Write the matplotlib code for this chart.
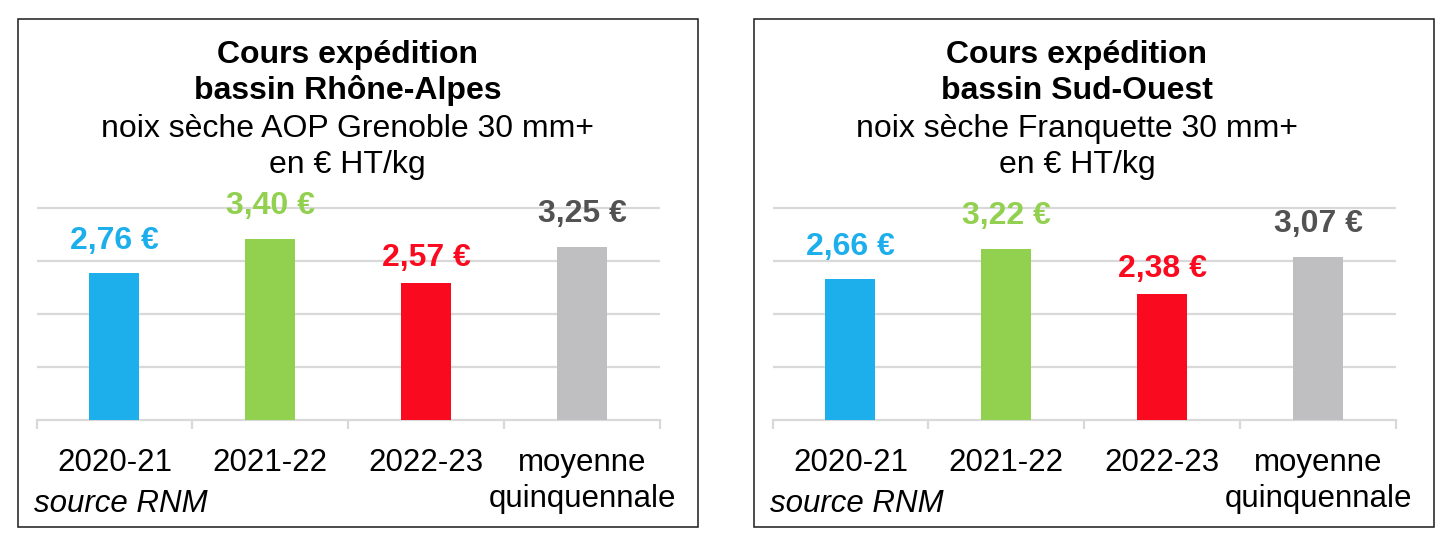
import numpy as np
import matplotlib
matplotlib.use("Agg")
import matplotlib.pyplot as plt
from matplotlib.patches import Rectangle

# ---------------- data ----------------
categories = ["2020-21", "2021-22", "2022-23", "moyenne\nquinquennale"]
values_rhone_alpes = [2.76, 3.40, 2.57, 3.25]
values_sud_ouest = [2.66, 3.22, 2.38, 3.07]
titles_rhone_alpes = ["Cours expédition", "bassin Rhône-Alpes",
                      "noix sèche AOP Grenoble 30 mm+", "en € HT/kg"]
titles_sud_ouest = ["Cours expédition", "bassin Sud-Ouest",
                    "noix sèche Franquette 30 mm+", "en € HT/kg"]
source_text = "source RNM"

# ---------------- style ----------------
bar_colors = ["#1DAFEC", "#92D050", "#FA0A1E", "#BFBEC0"]
label_colors = ["#1DAFEC", "#92D050", "#FA0A1E", "#525252"]
label_gap_px = [24, 25, 17, 25]
grid_color = "#D9D9D9"

plt.rcParams["font.family"] = ["Liberation Sans", "DejaVu Sans"]

W, H = 1454, 546
fig = plt.figure(figsize=(W / 100, H / 100), dpi=100)


def fx(px):
    return px / W


def fy(py):
    return 1 - py / H


def fmt(v):
    return f"{v:.2f}".replace(".", ",") + " €"


def draw_panel(offset, values, title_lines, title_cx):
    # panel frame
    fig.patches.append(Rectangle((fx(18 + offset), fy(527)), fx(679.5), (527 - 18.5) / H,
                                 transform=fig.transFigure, fill=False,
                                 edgecolor="#1a1a1a", linewidth=1.1))
    # titles
    baselines = [63, 99, 137, 173]
    for i, (line, by) in enumerate(zip(title_lines, baselines)):
        fig.text(fx(title_cx), fy(by), line, ha="center", va="baseline",
                 fontsize=23, fontweight="bold" if i < 2 else "normal", color="black")

    ymax = 4.02
    h_px = 212.5 * ymax / 4
    ax = fig.add_axes([fx(36.5 + offset), 126 / H, fx(623.5), h_px / H])
    ax.patch.set_alpha(0)
    x = np.arange(len(categories))
    ax.bar(x, values, width=0.32, color=bar_colors, zorder=3)
    ax.set_xlim(-0.5, len(categories) - 0.5)
    ax.set_ylim(0, ymax)
    ax.set_yticks([1, 2, 3, 4])
    ax.yaxis.grid(True, color=grid_color, linewidth=1.6)
    ax.set_axisbelow(True)
    ax.tick_params(axis="y", length=0, labelleft=False)
    for s in ["top", "right", "left"]:
        ax.spines[s].set_visible(False)
    ax.spines["bottom"].set_color(grid_color)
    ax.spines["bottom"].set_linewidth(1.6)
    ax.set_xticks(x)
    ax.set_xticklabels(categories, fontsize=22.5, linespacing=1.25)
    ax.tick_params(axis="x", which="major", length=0, pad=20)
    ax.set_xticks(np.arange(-0.5, len(categories), 1), minor=True)
    ax.tick_params(axis="x", which="minor", length=6.5, width=1.6, color=grid_color)

    for xi, v, c, g in zip(x, values, label_colors, label_gap_px):
        ax.annotate(fmt(v), (xi, v), xytext=(0, g), textcoords="offset pixels",
                    ha="center", va="baseline", fontsize=23, fontweight="bold",
                    color=c, annotation_clip=False)

    fig.text(fx(34.5 + offset), fy(511.5), source_text, ha="left", va="baseline",
             fontsize=22.5, fontstyle="italic", color="black")


draw_panel(0, values_rhone_alpes, titles_rhone_alpes, 347.5)
draw_panel(736, values_sud_ouest, titles_sud_ouest, 1077)

fig.savefig("out.png", dpi=100, facecolor="white")
